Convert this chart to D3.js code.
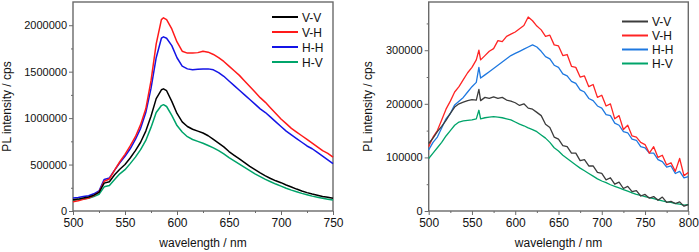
<!DOCTYPE html>
<html>
<head>
<meta charset="utf-8">
<script src="https://cdn.jsdelivr.net/npm/d3@7"></script>
<style>
  body { margin: 0; background: #fff; }
  svg { display: block; font-family: "Liberation Sans", Arial, sans-serif; }
  .axis path, .axis line { stroke: #6a6a6a; }
  .axis text { fill: #111; }
  .axis-title { font-size: 12px; fill: #111; }
  .legend text { font-size: 12px; fill: #111; }
</style>
</head>
<body>
<svg id="chart"></svg>
<script>
// ---- data: left panel (500-750 nm) ----
const leftWavelengths = [500,505,510,515,520,525,530,535,540,545,550,555,560,565,570,575,580,585,587,590,595,
  600,605,610,615,620,625,630,635,640,645,650,655,660,665,670,675,680,685,690,695,
  700,705,710,715,720,725,730,735,740,745,750];
const leftVV = [120000,128000,140000,150000,170000,200000,300000,315000,390000,450000,500000,570000,650000,740000,860000,1020000,1210000,1305000,1315000,1295000,1180000,
  1050000,960000,910000,880000,860000,840000,810000,770000,730000,690000,640000,600000,560000,520000,480000,445000,410000,378000,350000,325000,
  305000,280000,258000,236000,216000,198000,182000,169000,157000,147000,137000];
const leftVH = [100000,110000,125000,140000,165000,205000,320000,345000,440000,530000,610000,700000,800000,930000,1100000,1400000,1800000,2060000,2080000,2060000,1960000,
  1820000,1720000,1700000,1700000,1705000,1720000,1710000,1685000,1650000,1610000,1560000,1510000,1460000,1400000,1340000,1280000,1220000,1170000,1110000,1050000,
  990000,940000,890000,850000,810000,770000,730000,690000,650000,620000,580000];
const leftHH = [140000,145000,155000,165000,185000,215000,340000,355000,440000,520000,590000,670000,770000,890000,1060000,1320000,1650000,1860000,1875000,1860000,1780000,
  1650000,1560000,1530000,1520000,1525000,1530000,1530000,1520000,1490000,1450000,1400000,1350000,1300000,1250000,1200000,1150000,1100000,1060000,1010000,960000,
  910000,860000,820000,780000,740000,700000,670000,630000,590000,550000,510000];
const leftHV = [115000,120000,128000,138000,155000,180000,260000,275000,340000,400000,445000,510000,580000,660000,760000,900000,1060000,1135000,1145000,1125000,1030000,
  920000,850000,800000,770000,750000,730000,705000,680000,650000,615000,575000,540000,505000,470000,435000,400000,370000,340000,315000,290000,
  268000,245000,225000,207000,190000,175000,160000,148000,137000,127000,118000];

// ---- data: right panel (500-800 nm) ----
const rightWavelengths = [500,505,510,515,520,525,530,535,540,545,550,555,558,560,565,570,575,580,585,590,595,
  600,605,610,615,620,625,630,635,640,645,650,655,660,665,670,675,680,685,690,695,
  700,705,710,715,720,725,730,735,740,745,750,755,760,765,770,775,780,785,790,795,800];
const rightVV = [126000,136000,148000,158000,169000,182000,194000,200000,203000,206000,208000,207000,227000,206000,212000,210000,213000,210000,212000,207000,205000,
  202000,197000,200000,192000,190000,184000,178000,162000,156000,138000,134000,122000,120000,108000,108000,94000,96000,84000,84000,72000,
  70000,58000,62000,50000,54000,42000,46000,36000,38000,28000,31000,24000,27000,20000,26000,16000,18000,14000,17000,9000,12000];
const rightVH = [120000,138000,150000,170000,190000,205000,222000,232000,245000,258000,268000,282000,300000,282000,290000,298000,303000,318000,316000,326000,330000,
  334000,340000,346000,362000,355000,345000,338000,326000,328000,310000,308000,290000,292000,270000,268000,250000,252000,232000,236000,212000,
  216000,196000,200000,172000,178000,152000,160000,140000,138000,128000,124000,108000,120000,100000,104000,86000,90000,74000,98000,66000,72000];
const rightHH = [114000,128000,138000,155000,172000,182000,198000,205000,212000,222000,232000,240000,268000,248000,254000,260000,266000,272000,278000,284000,290000,
  294000,298000,302000,306000,310000,306000,298000,288000,284000,272000,268000,256000,252000,242000,238000,226000,222000,210000,206000,196000,
  192000,180000,178000,164000,160000,148000,146000,134000,132000,120000,118000,108000,108000,96000,92000,82000,84000,70000,74000,62000,64000];
const rightHV = [98000,108000,118000,128000,140000,150000,160000,166000,168000,169000,170000,172000,188000,172000,174000,175000,176000,175000,174000,172000,170000,
  166000,162000,159000,155000,152000,148000,142000,136000,128000,118000,112000,104000,98000,92000,86000,80000,75000,70000,65000,60000,
  56000,53000,49000,46000,43000,40000,37000,34000,31000,29000,27000,25000,23000,21000,19000,17000,16000,14000,13000,11000,12000];

const seriesNames = ['V-V', 'V-H', 'H-H', 'H-V'];

const svg = d3.select('#chart').attr('width', 699).attr('height', 252);

class SpectrumPanel {
  constructor(_config, _wavelengths, _series) {
    this.config = _config;
    this.wavelengths = _wavelengths;
    this.series = _series;
    this.initVis();
  }

  initVis() {
    let vis = this;
    const c = vis.config;

    vis.xScale = d3.scaleLinear().domain(c.xDomain).range([c.left, c.right]);
    vis.yScale = d3.scaleLinear().domain(c.yDomain).range([c.bottom, c.top]);

    vis.g = svg.append('g');

    // minor ticks first, then major ones with labels
    vis.g.append('g')
        .attr('class', 'axis')
        .attr('transform', `translate(0,${c.bottom})`)
        .call(d3.axisBottom(vis.xScale).tickValues(c.xMinor).tickSize(2).tickFormat(''))
        .call(g => g.select('.domain').remove());
    vis.g.append('g')
        .attr('class', 'axis')
        .attr('transform', `translate(${c.left},0)`)
        .call(d3.axisLeft(vis.yScale).tickValues(c.yMinor).tickSize(2).tickFormat(''))
        .call(g => g.select('.domain').remove());

    vis.g.append('g')
        .attr('class', 'axis x-axis')
        .attr('transform', `translate(0,${c.bottom})`)
        .call(d3.axisBottom(vis.xScale).tickValues(c.xTicks).tickSize(4).tickPadding(3).tickSizeOuter(0))
        .call(g => g.select('.domain').remove())
        .selectAll('text').style('font-size', '12px');
    vis.g.append('g')
        .attr('class', 'axis y-axis')
        .attr('transform', `translate(${c.left},0)`)
        .call(d3.axisLeft(vis.yScale).tickValues(c.yTicks).tickSize(4).tickPadding(2).tickFormat(d3.format('d')))
        .call(g => g.select('.domain').remove())
        .selectAll('text').style('font-size', '11px');

    // frame
    vis.g.append('rect')
        .attr('x', c.left).attr('y', c.top)
        .attr('width', c.right - c.left).attr('height', c.bottom - c.top)
        .attr('fill', 'none').attr('stroke', '#6a6a6a').attr('stroke-width', 1.4);

    vis.g.append('text')
        .attr('class', 'axis-title')
        .attr('x', (c.left + c.right) / 2)
        .attr('y', 247)
        .attr('text-anchor', 'middle')
        .text('wavelength / nm');

    vis.g.append('text')
        .attr('class', 'axis-title')
        .attr('transform', `translate(${c.yTitleX},${(c.top + c.bottom) / 2}) rotate(-90)`)
        .attr('text-anchor', 'middle')
        .text('PL intensity / cps');

    vis.renderVis();
  }

  renderVis() {
    let vis = this;
    const c = vis.config;

    const line = d3.line()
        .x((d, i) => vis.xScale(vis.wavelengths[i]))
        .y(d => vis.yScale(d));

    // draw order: H-V at the back, V-V on top
    const order = [3, 2, 1, 0];
    vis.g.selectAll('.spectrum')
        .data(order)
      .join('path')
        .attr('class', 'spectrum')
        .attr('d', k => line(vis.series[k]))
        .attr('fill', 'none')
        .attr('stroke', k => c.colors[k])
        .attr('stroke-width', c.lineWidth)
        .attr('stroke-linejoin', 'round');

    const legend = vis.g.append('g').attr('class', 'legend');
    const rows = legend.selectAll('g')
        .data(seriesNames)
      .join('g')
        .attr('transform', (d, i) => `translate(${c.legendX},${c.legendY + i * c.legendStep})`);
    rows.append('line')
        .attr('x1', 0).attr('x2', 26)
        .attr('stroke', (d, i) => c.colors[i])
        .attr('stroke-width', 2);
    rows.append('text')
        .attr('x', 30).attr('y', 4.5)
        .text(d => d);
  }
}

new SpectrumPanel({
  left: 73, right: 333, top: 2, bottom: 211,
  xDomain: [500, 750], yDomain: [0, 2250000],
  xTicks: [500, 550, 600, 650, 700, 750],
  xMinor: [525, 575, 625, 675, 725],
  yTicks: [0, 500000, 1000000, 1500000, 2000000],
  yMinor: [250000, 750000, 1250000, 1750000],
  yTitleX: 11,
  colors: ['#000000', '#ff1a1a', '#1414e6', '#00a46a'],
  lineWidth: 1.5,
  legendX: 272, legendY: 17, legendStep: 15
}, leftWavelengths, [leftVV, leftVH, leftHH, leftHV]);

new SpectrumPanel({
  left: 428.7, right: 688.3, top: 2, bottom: 211,
  xDomain: [500, 800], yDomain: [0, 390000],
  xTicks: [500, 550, 600, 650, 700, 750, 800],
  xMinor: [525, 575, 625, 675, 725, 775],
  yTicks: [0, 100000, 200000, 300000],
  yMinor: [50000, 150000, 250000, 350000],
  yTitleX: 372,
  colors: ['#3c3c3c', '#ff2424', '#1e78e0', '#00a46a'],
  lineWidth: 1.3,
  legendX: 622, legendY: 21.5, legendStep: 14
}, rightWavelengths, [rightVV, rightVH, rightHH, rightHV]);
</script>
</body>
</html>
